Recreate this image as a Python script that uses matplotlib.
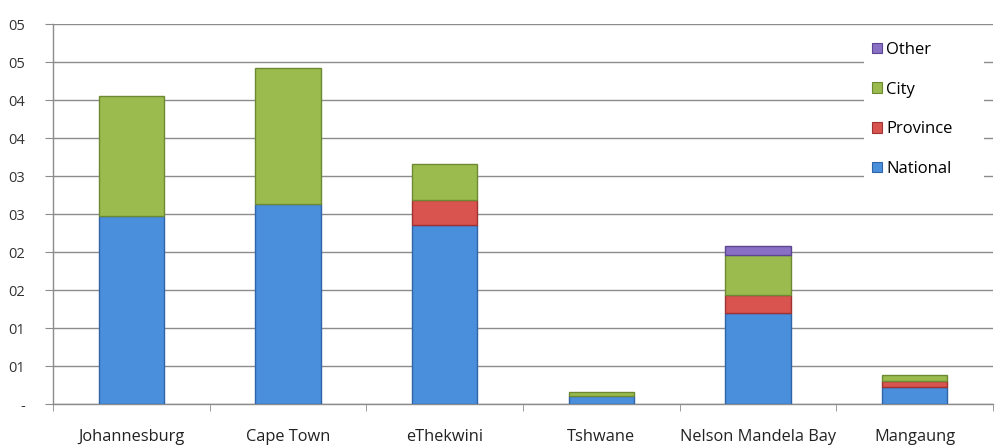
import matplotlib
matplotlib.use("Agg")
import matplotlib.pyplot as plt
from matplotlib.patches import Patch, Rectangle
import numpy as np

cities = ["Johannesburg", "Cape Town", "eThekwini", "Tshwane", "Nelson Mandela Bay", "Mangaung"]
national = [4.95, 5.26, 4.71, 0.22, 2.39, 0.45]
province = [0.0, 0.0, 0.66, 0.0, 0.48, 0.15]
city = [3.15, 3.58, 0.95, 0.09, 1.05, 0.16]
other = [0.0, 0.0, 0.0, 0.0, 0.24, 0.0]
ytick_vals = [0, 1, 2, 3, 4, 5, 6, 7, 8, 9, 10]
ytick_labels = ["-", "01", "01", "02", "02", "03", "03", "04", "04", "05", "05"]

plt.rcParams['font.family'] = ['Open Sans', 'DejaVu Sans']

fig = plt.figure(figsize=(9.97, 4.48), dpi=100)
ax = fig.add_axes([53/997, 44/448, (993-53)/997, (404-24)/448])

x = np.arange(len(cities))
w = 0.415
series = [("National", national, "#4a8fdb", "#2f64a8"),
          ("Province", province, "#d9534f", "#9e3431"),
          ("City", city, "#9bbb4f", "#6d8a33"),
          ("Other", other, "#8a70c4", "#5c4692")]
bottom = np.zeros(len(cities))
handles = []
for name, vals, col, ec in series:
    vals = np.array(vals)
    b = ax.bar(x, vals, w, bottom=bottom, color=col, edgecolor=ec, linewidth=1.0, label=name, zorder=3)
    for patch, v in zip(b.patches, vals):
        if v == 0:
            patch.set_visible(False)
    handles.append(Patch(facecolor=col, edgecolor=ec, linewidth=0.8, label=name))
    bottom += vals

ax.set_xlim(-0.5, len(cities) - 0.5)
ax.set_ylim(0, 10)
ax.set_yticks(ytick_vals)
ax.set_yticklabels(ytick_labels, fontsize=10.5, color="#333333")
ax.yaxis.grid(True, color="#8c8c8c", linewidth=1.0, zorder=0)
ax.set_axisbelow(True)
ax.set_xticks(x)
ax.set_xticklabels(cities, fontsize=11.8, color="#222222")
ax.set_xticks(np.arange(-0.5, len(cities) + 0.5, 1), minor=True)
ax.tick_params(axis='x', which='major', length=0, pad=18)
ax.tick_params(axis='x', which='minor', length=5, color="#8c8c8c", direction='out')
ax.tick_params(axis='y', length=6, color="#8c8c8c", direction='out', pad=14)
for s in ["top", "right"]:
    ax.spines[s].set_visible(False)
for s in ["left", "bottom"]:
    ax.spines[s].set_color("#8c8c8c")
    ax.spines[s].set_linewidth(1.0)

# white legend background area (covers gridlines like the original)
ax.add_patch(Rectangle((864/997, 1 - 182/448), (984 - 864)/997, (182 - 34)/448,
                       transform=fig.transFigure, facecolor="white",
                       edgecolor="none", zorder=4, clip_on=False))

leg = ax.legend(handles[::-1], [h.get_label() for h in handles[::-1]],
                loc='upper left', bbox_to_anchor=(867/997, 1 - 37/448),
                bbox_transform=fig.transFigure, frameon=False, fontsize=12,
                handlelength=0.6, handleheight=0.6, handletextpad=0.25,
                labelspacing=1.42, borderpad=0.3, borderaxespad=0)
leg.set_zorder(5)

fig.savefig("out.png", dpi=100)
